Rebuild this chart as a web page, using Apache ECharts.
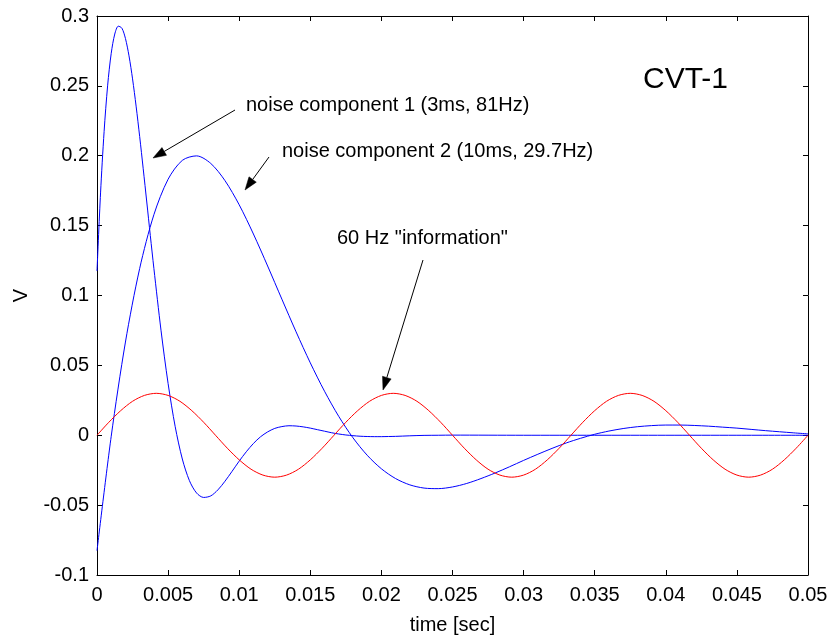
<!DOCTYPE html>
<html>
<head>
<meta charset="utf-8">
<script src="https://cdn.jsdelivr.net/npm/echarts@6/dist/echarts.min.js"></script>
<style>
html,body{margin:0;padding:0;background:#fff;}
#chart{width:832px;height:640px;}
</style>
</head>
<body>
<div id="chart"></div>
<script>
// ---- data ----
// noise component 1 (3ms, 81Hz)
const t1 = [0,0.00025,0.0005,0.00075,0.001,0.00125,0.0015,0.00175,0.002,0.00225,0.0025,0.00275,0.003,0.00325,0.0035,0.00375,0.004,
  0.0045,0.005,0.0055,0.006,0.0065,0.007,0.0075,0.008,0.0085,0.009,0.0095,0.01,0.0105,0.011,0.0115,0.012,0.0125,0.013,0.0135,0.014,0.0145,0.015,0.0155,0.016,0.0165,0.017,0.0175,0.018,0.0185,0.019,0.0195,0.02,0.0205,
  0.021,0.022,0.023,0.024,0.025,0.03,0.035,0.04,0.045,0.05];
const v1 = [0.1175,0.1734,0.2174,0.2505,0.2733,0.2871,0.2927,0.2913,0.2839,0.2715,0.2550,0.2355,0.2138,0.1907,0.1669,0.1429,0.1194,
  0.0752,0.0370,0.0061,-0.0170,-0.0325,-0.0413,-0.0445,-0.0434,-0.0391,-0.0329,-0.0258,-0.0185,-0.0118,-0.0059,-0.0011,0.0024,0.0049,0.0062,0.0068,0.0066,0.0060,0.0051,0.0040,0.0029,0.0018,0.0009,0.0002,-0.0003,-0.0007,-0.0009,-0.0010,-0.0010,-0.0009,
  -0.0008,-0.0004,-0.0001,0,0.0001,0,0,0,0,0];

// noise component 2 (10ms, 29.7Hz)
const t2 = [0,0.001,0.002,0.003,0.004,0.005,0.006,0.007,0.008,0.009,0.010,0.011,0.012,0.013,0.014,0.015,0.016,0.017,0.018,0.019,0.020,
  0.021,0.022,0.023,0.024,0.025,0.026,0.027,0.028,0.029,0.030,0.031,0.032,0.033,0.034,0.035,0.036,0.037,0.038,0.039,0.040,
  0.041,0.042,0.043,0.044,0.045,0.046,0.047,0.048,0.049,0.050];
const v2 = [-0.0826,-0.0007,0.0667,0.1193,0.1578,0.1832,0.1967,0.1999,0.1945,0.1822,0.1649,0.1440,0.1211,0.0974,0.0740,0.0518,0.0315,0.0135,-0.0018,-0.0143,-0.0240,
  -0.0310,-0.0355,-0.0378,-0.0382,-0.0370,-0.0345,-0.0310,-0.0270,-0.0226,-0.0180,-0.0136,-0.0094,-0.0055,-0.0022,0.0007,0.0030,0.0048,0.0061,0.0069,0.0073,
  0.0073,0.0070,0.0065,0.0058,0.0051,0.0042,0.0033,0.0025,0.0017,0.0010];

// 60 Hz "information"
const t3 = [0,0.000833,0.001667,0.0025,0.003333,0.004167,0.005,0.005833,0.006667,0.0075,0.008333,0.009167,0.01,0.010833,0.011667,0.0125,0.013333,0.014167,0.015,0.015833,
  0.016667,0.0175,0.018333,0.019167,0.02,0.020833,0.021667,0.0225,0.023333,0.024167,0.025,0.025833,0.026667,0.0275,0.028333,0.029167,0.03,0.030833,0.031667,0.0325,
  0.033333,0.034167,0.035,0.035833,0.036667,0.0375,0.038333,0.039167,0.04,0.040833,0.041667,0.0425,0.043333,0.044167,0.045,0.045833,0.046667,0.0475,0.048333,0.049167,0.05];
const v3 = [0,0.0093,0.0176,0.0243,0.0285,0.0300,0.0285,0.0243,0.0176,0.0093,0,-0.0093,-0.0176,-0.0243,-0.0285,-0.0300,-0.0285,-0.0243,-0.0176,-0.0093,
  0,0.0093,0.0176,0.0243,0.0285,0.0300,0.0285,0.0243,0.0176,0.0093,0,-0.0093,-0.0176,-0.0243,-0.0285,-0.0300,-0.0285,-0.0243,-0.0176,-0.0093,
  0,0.0093,0.0176,0.0243,0.0285,0.0300,0.0285,0.0243,0.0176,0.0093,0,-0.0093,-0.0176,-0.0243,-0.0285,-0.0300,-0.0285,-0.0243,-0.0176,-0.0093,0];

const xTickLabels = ['0','0.005','0.01','0.015','0.02','0.025','0.03','0.035','0.04','0.045','0.05'];
const yTickLabels = ['-0.1','-0.05','0','0.05','0.1','0.15','0.2','0.25','0.3'];

const xName = 'time [sec]';
const yName = 'V';
const plotTitle = 'CVT-1';
const annoTexts = ['noise component 1 (3ms, 81Hz)', 'noise component 2 (10ms, 29.7Hz)', '60 Hz "information"'];

// ---- chart ----
const FONT = "'Liberation Sans', Arial, Helvetica, sans-serif";
const pair = (ts, vs) => ts.map((t, i) => [t, vs[i]]);

const chart = echarts.init(document.getElementById('chart'), null, {renderer: 'canvas'});

function axisBase(extra) {
  return Object.assign({
    type: 'value',
    axisLine: {show: true, onZero: false, lineStyle: {color: '#000', width: 1}},
    axisTick: {show: true, inside: true, length: 5, lineStyle: {color: '#000', width: 1}},
    splitLine: {show: false},
    minorTick: {show: false}
  }, extra);
}

const xCommon = {min: 0, max: 0.05, interval: 0.005};
const yCommon = {min: -0.1, max: 0.3, interval: 0.05};

const option = {
  animation: false,
  backgroundColor: '#fff',
  grid: {left: 97, right: 24, top: 16, bottom: 63, containLabel: false},
  xAxis: [
    axisBase(Object.assign({}, xCommon, {
      position: 'bottom',
      axisLabel: {color: '#000', fontSize: 20, fontFamily: FONT, margin: 10,
        formatter: v => xTickLabels[Math.round(v / 0.005)]},
      name: xName, nameLocation: 'middle', nameGap: 40,
      nameTextStyle: {color: '#000', fontSize: 20, fontFamily: FONT}
    })),
    axisBase(Object.assign({}, xCommon, {position: 'top', axisLabel: {show: false}}))
  ],
  yAxis: [
    axisBase(Object.assign({}, yCommon, {
      position: 'left',
      axisLabel: {color: '#000', fontSize: 20, fontFamily: FONT, margin: 8,
        formatter: v => yTickLabels[Math.round((v + 0.1) / 0.05)]},
      name: yName, nameLocation: 'middle', nameGap: 66,
      nameTextStyle: {color: '#000', fontSize: 20, fontFamily: FONT}
    })),
    axisBase(Object.assign({}, yCommon, {position: 'right', axisLabel: {show: false}}))
  ],
  series: [
    {type: 'line', name: annoTexts[0], data: pair(t1, v1), xAxisIndex: 0, yAxisIndex: 0,
      showSymbol: false, smooth: 0.3, lineStyle: {color: '#0000ff', width: 1}, itemStyle: {color: '#0000ff'}},
    {type: 'line', name: annoTexts[1], data: pair(t2, v2), xAxisIndex: 0, yAxisIndex: 0,
      showSymbol: false, smooth: 0.3, lineStyle: {color: '#0000ff', width: 1}, itemStyle: {color: '#0000ff'}},
    {type: 'line', name: annoTexts[2], data: pair(t3, v3), xAxisIndex: 0, yAxisIndex: 0,
      showSymbol: false, smooth: 0.3, lineStyle: {color: '#ff0000', width: 1}, itemStyle: {color: '#ff0000'}}
  ]
};
chart.setOption(option);

// ---- annotations (text + arrows), placed in pixels ----
function arrow(x1, y1, x2, y2, headLen, headHalf) {
  const dx = x2 - x1, dy = y2 - y1;
  const L = Math.sqrt(dx * dx + dy * dy);
  const ux = dx / L, uy = dy / L;
  const bx = x2 - ux * headLen, by = y2 - uy * headLen;
  const px = -uy, py = ux;
  return [
    {type: 'line', silent: true, z: 100, shape: {x1: x1, y1: y1, x2: bx, y2: by},
      style: {stroke: '#000', lineWidth: 1}},
    {type: 'polygon', silent: true, z: 100,
      shape: {points: [[x2, y2], [bx + px * headHalf, by + py * headHalf], [bx - px * headHalf, by - py * headHalf]]},
      style: {fill: '#000', stroke: '#000', lineWidth: 0.5}}
  ];
}
function label(txt, x, y, size) {
  return {type: 'text', silent: true, z: 100, x: x, y: y,
    style: {text: txt, fill: '#000', font: size + 'px ' + FONT, align: 'left', verticalAlign: 'middle'}};
}

const g = [].concat(
  [label(annoTexts[0], 246, 105, 20)],
  arrow(235, 110, 153, 158, 13, 4.5),
  [label(annoTexts[1], 282, 151, 20)],
  arrow(269, 157, 245, 190, 13, 4.5),
  [label(annoTexts[2], 337, 238, 20)],
  arrow(423, 260, 383, 390, 13, 4.5),
  [label(plotTitle, 643, 80, 30)]
);
chart.setOption({graphic: g});
</script>
</body>
</html>
